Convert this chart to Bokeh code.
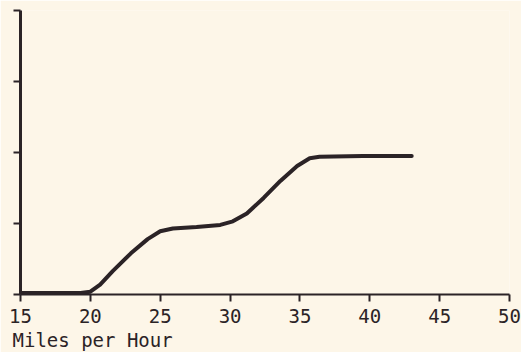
from bokeh.plotting import figure
from bokeh.models import Range1d, FixedTicker, Title
from bokeh.embed import file_html
from bokeh.resources import INLINE

# Data
mph = [15, 17, 19.3, 20.0, 20.7, 21.6, 22.9, 24.1, 25.0, 25.9, 27.6, 29.3, 30.2, 31.2, 32.4, 33.6, 34.8, 35.7, 36.4, 39.5, 43.0]
val = [0.02, 0.02, 0.02, 0.04, 0.14, 0.33, 0.58, 0.78, 0.89, 0.93, 0.95, 0.98, 1.03, 1.14, 1.36, 1.60, 1.81, 1.92, 1.94, 1.95, 1.95]
x_ticks = [15, 20, 25, 30, 35, 40, 45, 50]
y_ticks = [0, 1, 2, 3, 4]
x_title = "Miles per Hour"

bg = "#fdf6e8"
ink = "#2b2326"
font = "DejaVu Sans Mono"

p = figure(width=521, height=352, output_backend="svg", toolbar_location=None,
           x_range=Range1d(15, 50), y_range=Range1d(0, 4),
           min_border_left=20, min_border_right=12, min_border_top=10, min_border_bottom=0)
p.background_fill_color = bg
p.border_fill_color = bg
p.outline_line_color = None
p.grid.visible = False

p.line(mph, val, line_width=4, line_color=ink, line_cap="round", line_join="round")

p.xaxis.ticker = FixedTicker(ticks=x_ticks)
p.xaxis.axis_line_color = ink
p.xaxis.axis_line_width = 2
p.xaxis.major_tick_line_color = ink
p.xaxis.major_tick_line_width = 2
p.xaxis.major_tick_out = 7
p.xaxis.major_tick_in = 0
p.xaxis.minor_tick_line_color = None
p.xaxis.major_label_text_font = font
p.xaxis.major_label_text_font_size = "19px"
p.xaxis.major_label_text_color = ink
p.xaxis.major_label_standoff = 7

p.yaxis.ticker = FixedTicker(ticks=y_ticks)
p.yaxis.axis_line_color = ink
p.yaxis.axis_line_width = 3
p.yaxis.major_tick_line_color = ink
p.yaxis.major_tick_line_width = 2
p.yaxis.major_tick_out = 7
p.yaxis.major_tick_in = 0
p.yaxis.minor_tick_line_color = None
p.yaxis.major_label_overrides = {t: "" for t in y_ticks}
p.yaxis.major_label_standoff = 0
p.yaxis.major_label_text_font_size = "1px"

p.add_layout(Title(text=x_title, align="left", text_font=font,
                   text_font_size="19px", text_font_style="normal",
                   text_color=ink, offset=-8, standoff=3), "below")

open("out.html", "w").write(file_html(p, INLINE))
